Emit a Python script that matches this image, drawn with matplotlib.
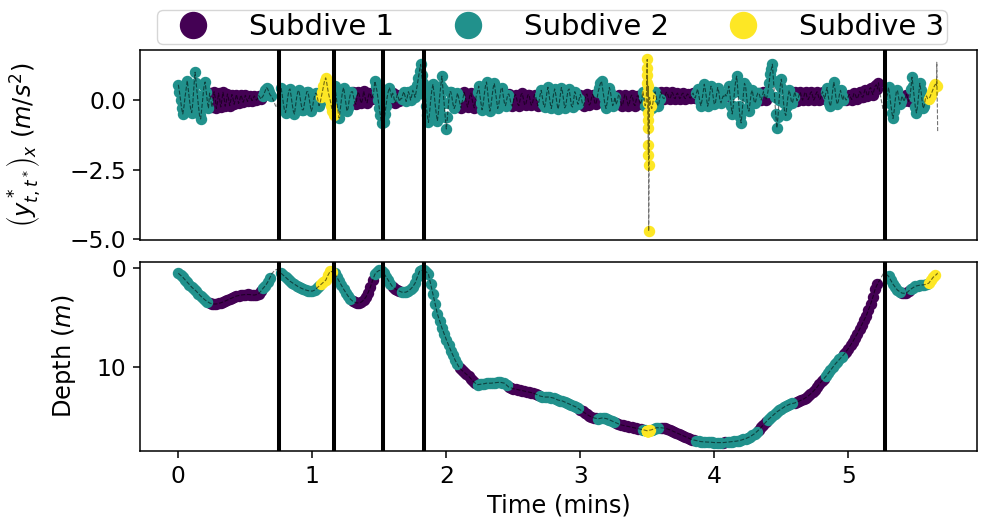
import numpy as np
import matplotlib
matplotlib.use("Agg")
import matplotlib.pyplot as plt
from matplotlib.lines import Line2D

# =====================================
# Track data
# =====================================

# surge acceleration (m/s^2), one sample every 0.5 s
accel_x = [
    # dive 1
    0.55, 0.3, 0.0, -0.3, -0.5, -0.25, 0.1, 0.4,
    0.7, 0.35, 0.0, -0.3, -0.45, -0.1, 0.5, 1.0,
    0.6, 0.2, -0.2, -0.55, -0.68, -0.3, 0.1, 0.5,
    0.65, 0.3, -0.05, -0.3,
    0.25, 0.05, -0.25, -0.05, 0.3, 0.1, -0.3, -0.1,
    0.25, 0.05, -0.25, 0.0, 0.28, 0.05, -0.22, -0.05,
    0.22, 0.05, -0.2, 0.0, 0.2, 0.05, -0.15, 0.0,
    0.2, 0.05, -0.12, 0.0, 0.18, 0.08, -0.08, 0.02,
    0.17, 0.06, -0.05, 0.03, 0.16, 0.08, -0.02, 0.05,
    0.15, 0.08, 0.0, 0.05, 0.16, 0.1, 0.03, 0.1,
    0.15, 0.25, 0.35, 0.45, 0.4, 0.3, 0.2, 0.15,
    0.1, 0.0, -0.1, -0.2, -0.25, -0.1, 0.0, 0.05,
    # dive 2
    0.45, 0.2, -0.1, -0.35, -0.45, -0.2, 0.1, 0.35,
    0.4, 0.15, -0.15, -0.4, -0.5, -0.2, 0.1, 0.3,
    0.35, 0.1, -0.15, -0.35, -0.35, -0.1, 0.1, 0.3,
    0.3, 0.1, -0.15, -0.4, -0.3, -0.05, 0.15, 0.25,
    0.2, 0.0, -0.2, -0.1,
    0.1, 0.3, 0.5, 0.7, 0.8, 0.6, 0.35, 0.15, 0.0, -0.2, -0.4, -0.55,
    # dive 3
    0.5, 0.25, -0.1, -0.4, -0.65, -0.35, 0.0, 0.3,
    0.45, 0.2, -0.1, -0.4, -0.3, 0.0, 0.2, 0.3,
    0.3, 0.1, -0.1, -0.15, 0.1, 0.3, 0.2, 0.0,
    -0.12, 0.05, 0.32, 0.15, -0.05, -0.1, 0.1, 0.25,
    0.2, 0.05, 0.15, 0.3,
    0.68, 0.5, 0.3, 0.0, -0.3, -0.55, -0.82, -0.6,
    # dive 4
    -0.8, -0.5, -0.2, 0.1, 0.3, 0.45, 0.3, 0.1,
    0.25, 0.1, -0.1, 0.0, 0.2, 0.1, -0.05, 0.05,
    0.05, 0.2, 0.3, 0.15, -0.05, 0.1, 0.3, 0.2,
    0.0, 0.15, 0.35, 0.25, 0.1, 0.3, 0.55, 0.8,
    1.05, 1.28, 0.9, 0.6,
    # dive 5
    0.5, 0.2, -0.2, -0.55, -0.8, -0.45, 0.0, 0.35,
    0.57, 0.25, -0.15, -0.5, -0.75, -0.4, 0.1, 0.5,
    0.86, 0.4, -0.1, -0.6, -1.04, -0.6, -0.1, 0.3,
    0.3, 0.1, -0.15, -0.3, -0.2, 0.05, 0.25, 0.1,
    -0.1, -0.28, -0.1, 0.1, 0.28, 0.1, -0.1, -0.25,
    -0.05, 0.15, 0.25, 0.05, -0.15, -0.28, -0.05, 0.2,
    0.3, 0.5, 0.2, -0.1, -0.35, -0.15, 0.2, 0.5,
    0.65, 0.3, -0.1, -0.4, -0.2, 0.15, 0.45, 0.6,
    0.3, 0.0, -0.3, -0.15, 0.15, 0.4, 0.45, 0.15,
    -0.1, -0.2, 0.0, 0.2,
    0.22, 0.05, -0.15, -0.22, -0.05, 0.15, 0.2, 0.05,
    -0.15, -0.2, 0.0, 0.2, 0.24, 0.05, -0.15, -0.18,
    0.0, 0.18, 0.2, 0.0, -0.18, -0.15, 0.05, 0.2,
    0.15, -0.05, -0.2, -0.05,
    0.2, 0.35, 0.1, -0.15, -0.25, -0.05, 0.25, 0.46,
    0.2, -0.1, -0.3, -0.1, 0.2, 0.4, 0.2, -0.1,
    -0.32, -0.15, 0.15, 0.45, 0.3, 0.0, -0.28, -0.2,
    0.1, 0.35, 0.4, 0.1, -0.2, -0.25, 0.0, 0.3,
    0.2, -0.05, -0.15, 0.05,
    0.2, 0.05, -0.15, -0.2, 0.0, 0.18, 0.22, 0.0,
    -0.18, -0.12, 0.08, 0.2, 0.1, -0.1, -0.15, 0.05,
    0.3, 0.45, 0.6, 0.68, 0.4, 0.1, -0.15, -0.3,
    -0.1, 0.2, 0.45, 0.3, 0.0, -0.2, -0.1, 0.1,
    -0.15, -0.05, 0.15, 0.2, 0.0, -0.2, -0.15, 0.05,
    0.2, 0.15, -0.05, -0.2, -0.1, 0.1, 0.18, 0.05,
    -0.15, -0.2, 0.0, 0.15, 0.15, -0.05, -0.15, 0.0,
    0.3, 0.1, -0.2, -0.1,
    0.25, 0.5, 0.1, -0.2,
    -0.3, -0.1, 0.2, 0.3, 0.1, -0.15, -0.2, 0.05,
    0.3, 0.2, 0.08, 0.05, 0.15, 0.28, 0.25, 0.1,
    0.05, 0.12, 0.28, 0.22, 0.08, 0.05, 0.2, 0.25,
    0.15, 0.05, 0.1, 0.22, 0.25, 0.1, 0.05, 0.15,
    0.22, 0.18, 0.08, 0.08, 0.2, 0.25, 0.12, 0.08,
    0.25, 0.4, 0.2, -0.05, -0.2, 0.0, 0.3, 0.57,
    0.35, 0.05, -0.22, -0.05, 0.25, 0.5, 0.4, 0.1,
    -0.15, -0.1, 0.2, 0.45, 0.3, 0.0, -0.1, 0.05,
    0.15, 0.1, 0.2, 0.15,
    0.3, 0.5, 0.2, -0.2, -0.5, -0.2, 0.3, 0.65,
    0.86, 0.4, -0.2, -0.6, -0.82, -0.4, 0.2, 0.6,
    0.5, 0.1, -0.3, -0.4, -0.1, 0.25, 0.35, 0.1,
    -0.1, -0.05, 0.15, 0.25,
    0.25, 0.1, 0.0, 0.15, 0.3, 0.2, 0.02, 0.1,
    0.3, 0.6, 0.95, 1.1, 1.29, 0.7, 0.1, -0.5,
    -1.0, -0.6, 0.0, 0.5, 0.75, 0.4, -0.1, -0.45,
    -0.55, -0.2, 0.15, 0.35, 0.2, -0.05, -0.1, 0.1,
    0.3, 0.15, -0.02, 0.05, 0.2, 0.28, 0.1, 0.0,
    0.1, 0.25, 0.28, 0.1, 0.02, 0.1, 0.25, 0.3,
    0.15, 0.0, 0.08, 0.22, 0.3, 0.18, 0.02, 0.05,
    0.2, 0.3, 0.15, 0.05,
    0.3, 0.45, 0.15, -0.1, -0.22, 0.0, 0.35, 0.65,
    0.4, 0.05, -0.15, -0.05, 0.2, 0.35, 0.15, 0.0,
    0.15, 0.08, 0.0, 0.05, 0.15, 0.2, 0.1, 0.02,
    0.08, 0.25, 0.22, 0.1, 0.05, 0.15, 0.3, 0.28,
    0.12, 0.1, 0.25, 0.38, 0.3, 0.15, 0.2, 0.4,
    0.45, 0.3, 0.2, 0.35, 0.5, 0.55, 0.4, 0.62,
    0.3, 0.1, -0.1, -0.3, -0.2, 0.0, 0.1, 0.2,
    # dive 6
    0.46, 0.2, -0.15, -0.45, -0.66, -0.4, 0.0, 0.3,
    0.35, 0.1, -0.15, -0.05,
    0.15, 0.05, -0.05, 0.1, 0.2, 0.1, -0.05, 0.05,
    0.4, 0.82, 0.5, 0.1, -0.25, -0.46, -0.2, 0.2,
    0.6, 0.35, 0.0, -0.3, -0.2, 0.05, 0.15, 0.05,
    0.05, 0.1, 0.2, 0.3, 0.4, 0.5, 0.57, 0.5,
    -1.14,
]

# depth (m), one sample every 1 s
depth = [
    0.5, 0.7, 0.9, 1.15, 1.4, 1.65, 1.9, 2.1, 2.3, 2.55,
    2.8, 3.0, 3.2, 3.35, 3.5, 3.57, 3.6, 3.6, 3.55, 3.48,
    3.4, 3.3, 3.2, 3.1, 3.0, 2.9, 2.8, 2.75, 2.7, 2.67,
    2.65, 2.64, 2.65, 2.68, 2.7, 2.65, 2.55, 2.3, 2.0, 1.75,
    1.4, 0.95, 0.5, 0.25, 0.1, 0.3, 0.5, 0.7, 0.9, 1.1,
    1.3, 1.45, 1.6, 1.75, 1.9, 2.0, 2.1, 2.18, 2.25, 2.28,
    2.3, 2.2, 2.0, 1.8, 1.6, 1.4, 1.2, 0.7, 0.3, 0.35,
    0.5, 0.9, 1.3, 1.7, 2.1, 2.45, 2.8, 3.1, 3.3, 3.42,
    3.5, 3.48, 3.4, 3.2, 2.9, 2.45, 1.9, 1.2, 0.6, 0.35,
    0.2, 0.3, 0.5, 0.85, 1.2, 1.55, 1.9, 2.05, 2.2, 2.3,
    2.4, 2.42, 2.4, 2.28, 2.1, 1.85, 1.5, 0.9, 0.3, 0.2,
    0.2, 0.35, 0.6, 1.6, 2.6, 3.6, 4.6, 5.3, 6.0, 6.6,
    7.2, 7.75, 8.3, 8.8, 9.3, 9.7, 10.1, 10.3, 10.5, 10.7,
    10.9, 11.15, 11.4, 11.6, 11.75, 11.72, 11.7, 11.65, 11.6, 11.6,
    11.6, 11.58, 11.55, 11.52, 11.5, 11.55, 11.6, 11.8, 12.0, 12.08,
    12.15, 12.2, 12.25, 12.3, 12.35, 12.4, 12.45, 12.5, 12.55, 12.62,
    12.7, 12.8, 12.9, 12.95, 13.0, 13.0, 13.0, 13.05, 13.1, 13.2,
    13.3, 13.35, 13.4, 13.5, 13.6, 13.7, 13.8, 13.9, 14.0, 14.15,
    14.3, 14.45, 14.6, 14.75, 14.9, 15.0, 15.1, 15.15, 15.2, 15.15,
    15.1, 15.15, 15.2, 15.3, 15.4, 15.5, 15.6, 15.7, 15.8, 15.85,
    15.9, 15.95, 16.0, 16.05, 16.1, 16.15, 16.2, 16.25, 16.3, 16.35,
    16.4, 16.35, 16.3, 16.2, 16.1, 16.1, 16.1, 16.12, 16.15, 16.22,
    16.3, 16.4, 16.5, 16.6, 16.7, 16.8, 16.9, 17.0, 17.1, 17.2,
    17.3, 17.35, 17.4, 17.45, 17.5, 17.52, 17.55, 17.55, 17.55, 17.58,
    17.6, 17.6, 17.6, 17.6, 17.6, 17.58, 17.55, 17.52, 17.5, 17.48,
    17.45, 17.4, 17.35, 17.28, 17.2, 17.1, 17.0, 16.85, 16.7, 16.5,
    16.3, 16.05, 15.8, 15.55, 15.3, 15.1, 14.9, 14.7, 14.5, 14.35,
    14.2, 14.05, 13.9, 13.8, 13.7, 13.65, 13.6, 13.5, 13.4, 13.3,
    13.2, 13.05, 12.9, 12.7, 12.5, 12.25, 12.0, 11.7, 11.4, 11.15,
    10.9, 10.6, 10.3, 10.0, 9.7, 9.45, 9.2, 8.95, 8.7, 8.4,
    8.1, 7.75, 7.4, 7.0, 6.6, 6.15, 5.7, 5.25, 4.8, 4.2,
    3.6, 2.9, 2.1, 1.6, 1.2, 0.8, 0.4, 0.6, 0.8, 1.2,
    1.6, 1.9, 2.2, 2.35, 2.5, 2.52, 2.5, 2.3, 2.1, 1.95,
    1.8, 1.75, 1.7, 1.68, 1.65, 1.6, 1.5, 1.2, 0.9, 0.7,
    0.5,
]

# decoded subdive state per acceleration sample as (state, count); -1 = unclassified
state_runs = [
    (1, 28), (0, 48), (1, 8), (-1, 8),
    (1, 36), (2, 12),
    (1, 16), (0, 20), (1, 8),
    (1, 8), (0, 8), (1, 20),
    (1, 32), (0, 16), (1, 28), (0, 28), (1, 36), (0, 16), (1, 16), (0, 24),
    (1, 4), (2, 4), (1, 8), (0, 32), (1, 24), (0, 4), (1, 28), (0, 8),
    (1, 24), (0, 28), (1, 16), (0, 32), (-1, 8),
    (1, 12), (0, 8), (1, 16), (2, 8), (-1, 1),
]

# high-rate bursts between the regular samples
spike_minutes = [3.495, 3.497, 3.499, 3.501, 3.503, 3.504,
                 3.505, 3.506, 3.507, 3.508, 3.509, 3.510]
spike_accel = [0.61, 1.14, 1.46, 0.89, -0.11, -0.46,
               -0.71, -1.00, -1.61, -1.96, -2.32, -4.71]
spike_depth = [16.4] * len(spike_minutes)

tail_minutes = [5.660, 5.662, 5.664]
tail_accel = [1.36, 0.20, -0.10]
tail_depth = [0.6, 0.55, 0.5]

# dive boundaries (mins)
dive_ends = [0.750, 1.161, 1.530, 1.831, 5.277]

labels = ["Subdive 1", "Subdive 2", "Subdive 3"]
colors = plt.cm.viridis(np.linspace(0, 1, 3))

# =====================================
# Assemble series
# =====================================

accel_state = np.concatenate([np.full(n, s) for s, n in state_runs])
depth_state = accel_state[::2]


def merge(minutes, values, states, burst_values, tail_values):
    t = np.concatenate([minutes, spike_minutes, tail_minutes])
    y = np.concatenate([values, burst_values, tail_values])
    s = np.concatenate([states, np.full(len(spike_minutes), 2), np.full(len(tail_minutes), -1)])
    order = np.argsort(t, kind="stable")
    return t[order], y[order], s[order]


acc_series = merge(np.arange(len(accel_x)) / 120, accel_x, accel_state, spike_accel, tail_accel)
dep_series = merge(np.arange(len(depth)) / 60, depth, depth_state, spike_depth, tail_depth)

# =====================================
# Figure
# =====================================

plt.rcParams.update({
    "axes.linewidth": 1.1,
    "xtick.major.size": 4.9,
    "ytick.major.size": 4.9,
    "xtick.major.width": 1.1,
    "ytick.major.width": 1.1,
    "xtick.major.pad": 4.9,
    "ytick.major.pad": 4.9,
    "xtick.labelsize": 16.8,
    "ytick.labelsize": 16.8,
})

fig = plt.figure(figsize=(9.81, 5.27), dpi=100)
ax1 = fig.add_axes([0.1427, 0.5446, 0.8532, 0.3605])
ax2 = fig.add_axes([0.1427, 0.1442, 0.8532, 0.3592], sharex=ax1)

for ax, (t, y, st) in [(ax1, acc_series), (ax2, dep_series)]:
    for k in range(3):
        m = st == k
        ax.scatter(t[m], y[m], s=52, color=colors[k], linewidths=1.0, zorder=2)
    dive = np.searchsorted(dive_ends, t)
    for d in np.unique(dive):
        m = dive == d
        ax.plot(t[m], y[m], "k--", lw=0.8, alpha=0.55, zorder=3)
    for x in dive_ends:
        ax.axvline(x, color="k", lw=2.9, zorder=4)

ax1.set_xlim(-0.286, 5.96)
ax1.set_ylim(-5.03, 1.80)
ax1.set_yticks([-5, -2.5, 0])
ax1.tick_params(axis="x", bottom=False, labelbottom=False)
ax1.set_ylabel(r"$\left(y^*_{t,t^*}\right)_x$ $(m/s^2)$", fontsize=17.4)
ax1.yaxis.set_label_coords(-0.1159, 0.5)

ax2.set_ylim(18.45, -0.67)
ax2.set_yticks([0, 10])
ax2.set_xticks([0, 1, 2, 3, 4, 5])
ax2.set_ylabel(r"Depth ($m$)", fontsize=17.4)
ax2.yaxis.set_label_coords(-0.0741, 0.5)
ax2.set_xlabel("Time (mins)", fontsize=17.4)

handles = [Line2D([], [], ls="none", marker="o", ms=18.7, color=c) for c in colors]
fig.legend(handles, labels, loc="center left", bbox_to_anchor=(157 / 981, 1 - 27 / 527),
           ncol=3, fontsize=21, borderpad=0.1, borderaxespad=0, handlelength=2.3,
           handletextpad=0.75, columnspacing=1.4)

fig.savefig("out.png", dpi=100)
